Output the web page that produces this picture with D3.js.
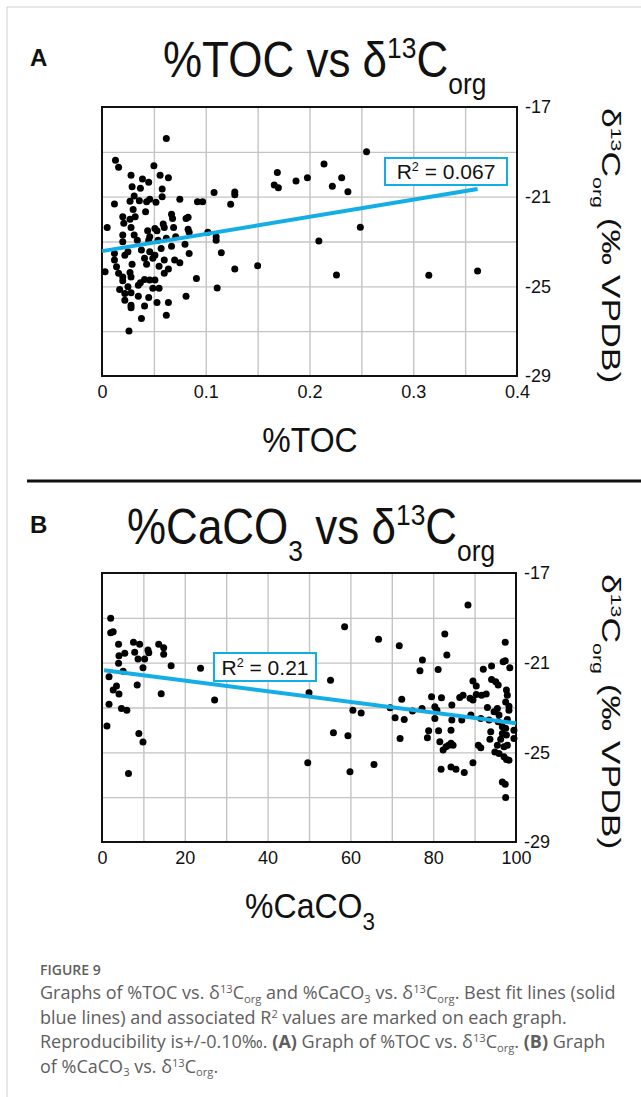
<!DOCTYPE html>
<html>
<head>
<meta charset="UTF-8">
<title>Figure 9</title>
<script src="https://d3js.org/d3.v7.min.js"></script>
<style>
  body { margin: 0; background: #fff; }
  svg text { font-family: "Liberation Sans", Arial, sans-serif; }
  .cap { font-family: "Open Sans", "Noto Sans", sans-serif; fill: #5e5e5e; }
</style>
</head>
<body>
<svg width="641" height="1097"></svg>
<script>
// %TOC vs d13C org (panel A)
var tocPoints = [
  [0.062,-18.40],[0.013,-19.37],[0.016,-19.69],[0.050,-19.62],[0.028,-20.04],[0.056,-20.04],
  [0.064,-20.16],[0.039,-20.21],[0.045,-20.36],[0.029,-20.56],[0.037,-20.63],[0.058,-20.66],
  [0.108,-20.81],[0.031,-20.97],[0.058,-21.00],[0.036,-21.18],[0.046,-21.12],[0.027,-21.21],
  [0.043,-21.23],[0.052,-21.25],[0.075,-21.11],[0.092,-21.23],[0.097,-21.23],[0.012,-21.33],
  [0.030,-21.57],[0.042,-21.67],[0.020,-21.90],[0.032,-21.90],[0.027,-22.01],[0.067,-21.78],
  [0.068,-21.97],[0.081,-21.97],[0.083,-21.92],[0.021,-22.19],[0.028,-22.37],[0.005,-22.37],
  [0.059,-22.22],[0.060,-22.37],[0.069,-22.37],[0.051,-22.42],[0.044,-22.52],[0.083,-22.45],
  [0.053,-22.52],[0.020,-22.71],[0.031,-22.71],[0.046,-22.79],[0.062,-22.86],[0.071,-22.79],
  [0.084,-22.59],[0.102,-22.59],[0.034,-22.94],[0.045,-22.94],[0.054,-22.94],[0.020,-23.01],
  [0.067,-23.21],[0.080,-23.12],[0.012,-23.53],[0.025,-23.46],[0.038,-23.38],[0.046,-23.46],
  [0.051,-23.61],[0.057,-23.31],[0.084,-23.53],[0.012,-23.83],[0.022,-23.61],[0.041,-23.75],
  [0.049,-23.75],[0.060,-23.83],[0.070,-23.83],[0.075,-23.95],[0.003,-24.35],[0.014,-24.13],
  [0.029,-24.01],[0.043,-24.01],[0.055,-24.10],[0.064,-24.23],[0.016,-24.42],[0.027,-24.38],
  [0.060,-24.42],[0.020,-24.58],[0.028,-24.58],[0.020,-24.75],[0.041,-24.69],[0.046,-24.72],
  [0.051,-24.72],[0.091,-24.65],[0.037,-24.84],[0.035,-24.95],[0.017,-25.14],[0.025,-25.02],
  [0.049,-25.09],[0.055,-25.09],[0.111,-25.07],[0.022,-25.32],[0.028,-25.29],[0.035,-25.44],
  [0.045,-25.50],[0.081,-25.44],[0.022,-25.62],[0.053,-25.72],[0.064,-25.72],[0.028,-25.84],
  [0.028,-25.96],[0.041,-25.88],[0.062,-26.29],[0.038,-26.43],[0.026,-26.99],[0.124,-21.34],
  [0.128,-20.79],[0.128,-20.91],[0.110,-22.79],[0.110,-22.94],[0.115,-23.50],[0.128,-24.23],
  [0.150,-24.08],[0.166,-20.48],[0.169,-19.92],[0.170,-20.60],[0.187,-20.30],[0.198,-20.16],
  [0.214,-19.54],[0.209,-22.98],[0.255,-19.00],[0.222,-20.53],[0.231,-20.16],[0.237,-20.78],
  [0.249,-22.36],[0.226,-24.49],[0.315,-24.50],[0.362,-24.32]
];
var tocFit = [[0, -23.43], [0.362, -20.66]];
var tocR2 = "0.067";

// %CaCO3 vs d13C org (panel B)
var caco3Points = [
  [2.1,-19.02],[2.1,-19.67],[2.7,-19.62],[4.0,-20.18],[7.6,-20.09],[9.1,-20.18],[13.7,-20.18],
  [14.9,-20.33],[11.1,-20.44],[11.3,-20.56],[7.9,-20.54],[5.5,-20.58],[4.1,-20.69],[14.9,-20.63],
  [8.7,-20.84],[10.3,-20.84],[4.0,-21.03],[9.9,-21.23],[16.7,-21.14],[23.8,-21.25],[5.1,-21.38],
  [1.7,-21.63],[8.5,-22.00],[3.5,-22.04],[2.7,-22.22],[4.1,-22.40],[14.3,-22.39],[1.7,-22.86],
  [4.7,-23.04],[6.0,-23.12],[1.2,-23.83],[8.9,-24.16],[9.9,-24.54],[6.4,-25.94],[27.2,-22.67],
  [50.0,-22.34],[49.7,-25.47],[58.6,-19.40],[55.2,-21.78],[60.6,-23.12],[62.6,-23.24],[55.9,-24.13],
  [59.4,-24.26],[59.9,-25.87],[65.7,-25.54],[66.8,-19.95],[71.8,-20.25],[72.4,-22.63],[69.6,-23.01],
  [70.8,-23.46],[73.0,-23.53],[75.0,-23.16],[72.0,-24.38],[76.8,-21.36],[77.4,-20.88],[81.2,-21.30],
  [82.8,-19.72],[83.3,-20.66],[88.4,-18.43],[97.4,-20.09],[92.1,-21.29],[94.1,-21.15],[96.9,-20.96],
  [97.4,-20.92],[98.5,-21.23],[94.1,-21.75],[95.1,-21.85],[95.7,-22.00],[89.6,-21.82],[90.4,-22.04],
  [97.7,-22.22],[92.8,-22.40],[91.7,-22.45],[90.4,-22.42],[87.2,-22.45],[86.4,-22.55],[88.9,-22.59],
  [89.6,-22.67],[97.9,-22.45],[97.5,-22.75],[79.6,-22.52],[82.0,-22.57],[84.5,-22.89],[80.4,-22.97],
  [77.3,-23.04],[93.1,-23.00],[95.5,-23.04],[98.3,-22.94],[80.9,-23.12],[94.7,-23.19],[95.9,-23.34],
  [98.3,-23.12],[80.4,-23.49],[84.5,-23.56],[86.9,-23.56],[89.1,-23.34],[91.5,-23.49],[93.5,-23.56],
  [95.7,-23.64],[97.9,-23.53],[96.7,-23.86],[97.5,-23.93],[99.5,-24.01],[78.9,-24.04],[81.3,-24.04],
  [84.3,-24.01],[78.6,-24.35],[81.6,-24.53],[93.9,-24.08],[96.7,-24.16],[97.7,-24.23],[99.5,-24.38],
  [93.7,-24.42],[96.3,-24.42],[84.3,-24.60],[84.8,-24.68],[83.7,-24.68],[83.1,-24.75],[82.4,-24.90],
  [90.9,-24.68],[91.5,-24.80],[95.5,-24.68],[97.1,-24.75],[97.9,-24.68],[94.9,-24.98],[95.9,-25.05],
  [97.1,-25.20],[97.7,-25.32],[98.3,-25.35],[89.6,-25.47],[81.9,-25.75],[84.3,-25.65],[85.5,-25.75],
  [87.5,-25.90],[96.7,-26.32],[97.4,-26.42],[97.5,-27.01]
];
var caco3Fit = [[0.5, -21.34], [100, -23.70]];
var caco3R2 = "0.21";

var yTicks = [-17, -21, -25, -29];
var yGrid = [-27, -25, -23, -21, -19];
var tocTicks = [0, 0.1, 0.2, 0.3, 0.4];
var tocGrid = [0.05, 0.1, 0.15, 0.2, 0.25, 0.3, 0.35];
var caco3Ticks = [0, 20, 40, 60, 80, 100];
var caco3Grid = [10, 20, 30, 40, 50, 60, 70, 80, 90];

var svg = d3.select("svg");
var blue = "#14aee6";

// page frame
svg.append("line").attr("x1", 7).attr("y1", 7).attr("x2", 641).attr("y2", 7).attr("stroke", "#cfcfcf");
svg.append("line").attr("x1", 7).attr("y1", 7).attr("x2", 7).attr("y2", 1097).attr("stroke", "#cfcfcf");

// text with super/subscripts: segs = [text, kind, bold]
function rich(sel, segs, size, small, supUp, subDown) {
  supUp = supUp || 0.38;
  subDown = subDown || 0.34;
  var off = 0;
  segs.forEach(function(s) {
    var target = s[1] === "sup" ? -size * supUp : s[1] === "sub" ? size * subDown : 0;
    var t = sel.append("tspan").attr("dy", target - off).text(s[0]);
    if (s[1]) t.attr("font-size", size * small);
    if (s[2]) t.attr("font-weight", "bold");
    off = target;
  });
}

function panel(cfg) {
  var x = d3.scaleLinear().domain(cfg.xDomain).range([cfg.left, cfg.right]);
  var y = d3.scaleLinear().domain([-29, -17]).range([cfg.bottom, cfg.top]);
  var g = svg.append("g");

  g.append("g").attr("transform", "translate(0," + cfg.bottom + ")")
    .call(d3.axisBottom(x).tickValues(cfg.grid).tickSize(-(cfg.bottom - cfg.top)).tickFormat(""))
    .call(function(a) { a.select(".domain").remove(); a.selectAll("line").attr("stroke", "#c4c4c4").attr("stroke-width", 1.4); });
  g.append("g").attr("transform", "translate(" + cfg.left + ",0)")
    .call(d3.axisLeft(y).tickValues(yGrid).tickSize(-(cfg.right - cfg.left)).tickFormat(""))
    .call(function(a) { a.select(".domain").remove(); a.selectAll("line").attr("stroke", "#c4c4c4").attr("stroke-width", 1.4); });

  g.append("rect").attr("x", cfg.left).attr("y", cfg.top)
    .attr("width", cfg.right - cfg.left).attr("height", cfg.bottom - cfg.top)
    .attr("fill", "none").attr("stroke", "#111").attr("stroke-width", 2);

  g.append("g").selectAll("circle").data(cfg.points).join("circle")
    .attr("cx", function(d) { return x(d[0]); })
    .attr("cy", function(d) { return y(d[1]); })
    .attr("r", 3.5).attr("fill", "#000");

  g.append("path").datum(cfg.fit)
    .attr("d", d3.line().x(function(d) { return x(d[0]); }).y(function(d) { return y(d[1]); }))
    .attr("stroke", blue).attr("stroke-width", 4).attr("fill", "none");

  // x tick labels
  g.append("g").attr("transform", "translate(0," + cfg.bottom + ")")
    .call(d3.axisBottom(x).tickValues(cfg.ticks).tickSize(0).tickPadding(9).tickFormat(cfg.fmt))
    .call(function(a) { a.select(".domain").remove(); a.selectAll("text").attr("font-size", 18).attr("font-family", "Liberation Sans, Arial").attr("fill", "#111"); });

  // y tick labels on the right
  g.append("g").attr("transform", "translate(" + cfg.right + ",0)")
    .call(d3.axisRight(y).tickValues(yTicks).tickSize(0).tickPadding(8).tickFormat(function(d) { return String(d); }))
    .call(function(a) { a.select(".domain").remove(); a.selectAll("text").attr("font-size", 18).attr("font-family", "Liberation Sans, Arial").attr("fill", "#111"); });

  // R2 box
  g.append("rect").attr("x", cfg.box[0]).attr("y", cfg.box[1]).attr("width", cfg.box[2]).attr("height", cfg.box[3])
    .attr("fill", "#fff").attr("stroke", blue).attr("stroke-width", 2);
  var rt = g.append("text").attr("x", cfg.box[0] + cfg.box[2] / 2).attr("y", cfg.box[1] + cfg.box[3] / 2 + 7.5)
    .attr("text-anchor", "middle").attr("font-size", 21).attr("fill", "#111");
  rich(rt, [["R"], ["2", "sup"], [" = " + cfg.r2]], 21, 0.6);

  // panel letter
  g.append("text").attr("x", 30).attr("y", cfg.letterY).attr("font-size", 24).attr("font-weight", "bold")
    .attr("fill", "#111").text(cfg.letter);

  // title, slightly stretched vertically like the original artwork
  var tt = g.append("text").attr("transform", "translate(" + cfg.titleX + "," + cfg.titleY + ") scale(1,1.12)")
    .attr("font-size", 44).attr("fill", "#111");
  rich(tt, cfg.title, 44, 0.6);

  // x axis title
  var xt = g.append("text").attr("transform", "translate(310," + cfg.xTitleY + ") scale(1,1.08)")
    .attr("text-anchor", "middle").attr("font-size", 32).attr("fill", "#111");
  rich(xt, cfg.xTitle, 32, 0.7);

  // right axis title, stretched along its length
  var yt = g.append("text")
    .attr("transform", "translate(602," + (cfg.top + 1) + ") rotate(90) scale(1.42,1)")
    .attr("font-size", 25).attr("fill", "#111");
  rich(yt, [["\u03b4"], ["13", "sup"], ["C"], ["org", "sub"], [" (\u2030 VPDB)"]], 25, 0.6);
}

panel({
  letter: "A", letterY: 66,
  xDomain: [0, 0.4], left: 102, right: 517, top: 107, bottom: 376,
  grid: tocGrid, ticks: tocTicks, points: tocPoints, fit: tocFit, r2: tocR2,
  fmt: function(d) { return d === 0 ? "0" : d3.format(".1f")(d); },
  box: [385, 158, 122, 27],
  titleX: 163, titleY: 77,
  title: [["%TOC vs \u03b4"], ["13", "sup"], ["C"], ["org", "sub"]],
  xTitleY: 452, xTitle: [["%TOC"]]
});

panel({
  letter: "B", letterY: 533,
  xDomain: [0, 100], left: 102, right: 516, top: 573, bottom: 842,
  grid: caco3Grid, ticks: caco3Ticks, points: caco3Points, fit: caco3Fit, r2: caco3R2,
  fmt: function(d) { return String(d); },
  box: [214, 653, 102, 28],
  titleX: 127, titleY: 544,
  title: [["%CaCO"], ["3", "sub"], [" vs \u03b4"], ["13", "sup"], ["C"], ["org", "sub"]],
  xTitleY: 918, xTitle: [["%CaCO"], ["3", "sub"]]
});

// divider
svg.append("line").attr("x1", 27).attr("y1", 481).attr("x2", 641).attr("y2", 481)
  .attr("stroke", "#111").attr("stroke-width", 3);

// caption
svg.append("text").attr("class", "cap").attr("x", 40).attr("y", 975)
  .attr("font-size", 14).attr("font-weight", 600).attr("fill", "#666").text("FIGURE 9");

var capLines = [
  [["Graphs of %TOC vs. \u03b4"], ["13", "sup"], ["C"], ["org", "sub"], [" and %CaCO"], ["3", "sub"],
   [" vs. \u03b4"], ["13", "sup"], ["C"], ["org", "sub"], [". Best fit lines (solid"]],
  [["blue lines) and associated R"], ["2", "sup"], [" values are marked on each graph."]],
  [["Reproducibility is+/-0.10\u2030. "], ["(A)", null, true], [" Graph of %TOC vs. \u03b4"], ["13", "sup"],
   ["C"], ["org", "sub"], [". "], ["(B)", null, true], [" Graph"]],
  [["of %CaCO"], ["3", "sub"], [" vs. \u03b4"], ["13", "sup"], ["C"], ["org", "sub"], ["."]]
];
capLines.forEach(function(line, i) {
  var t = svg.append("text").attr("class", "cap").attr("x", 40).attr("y", 999 + i * 24.5)
    .attr("font-size", 18);
  rich(t, line, 18, 0.62, 0.32, 0.2);
});
</script>
</body>
</html>
